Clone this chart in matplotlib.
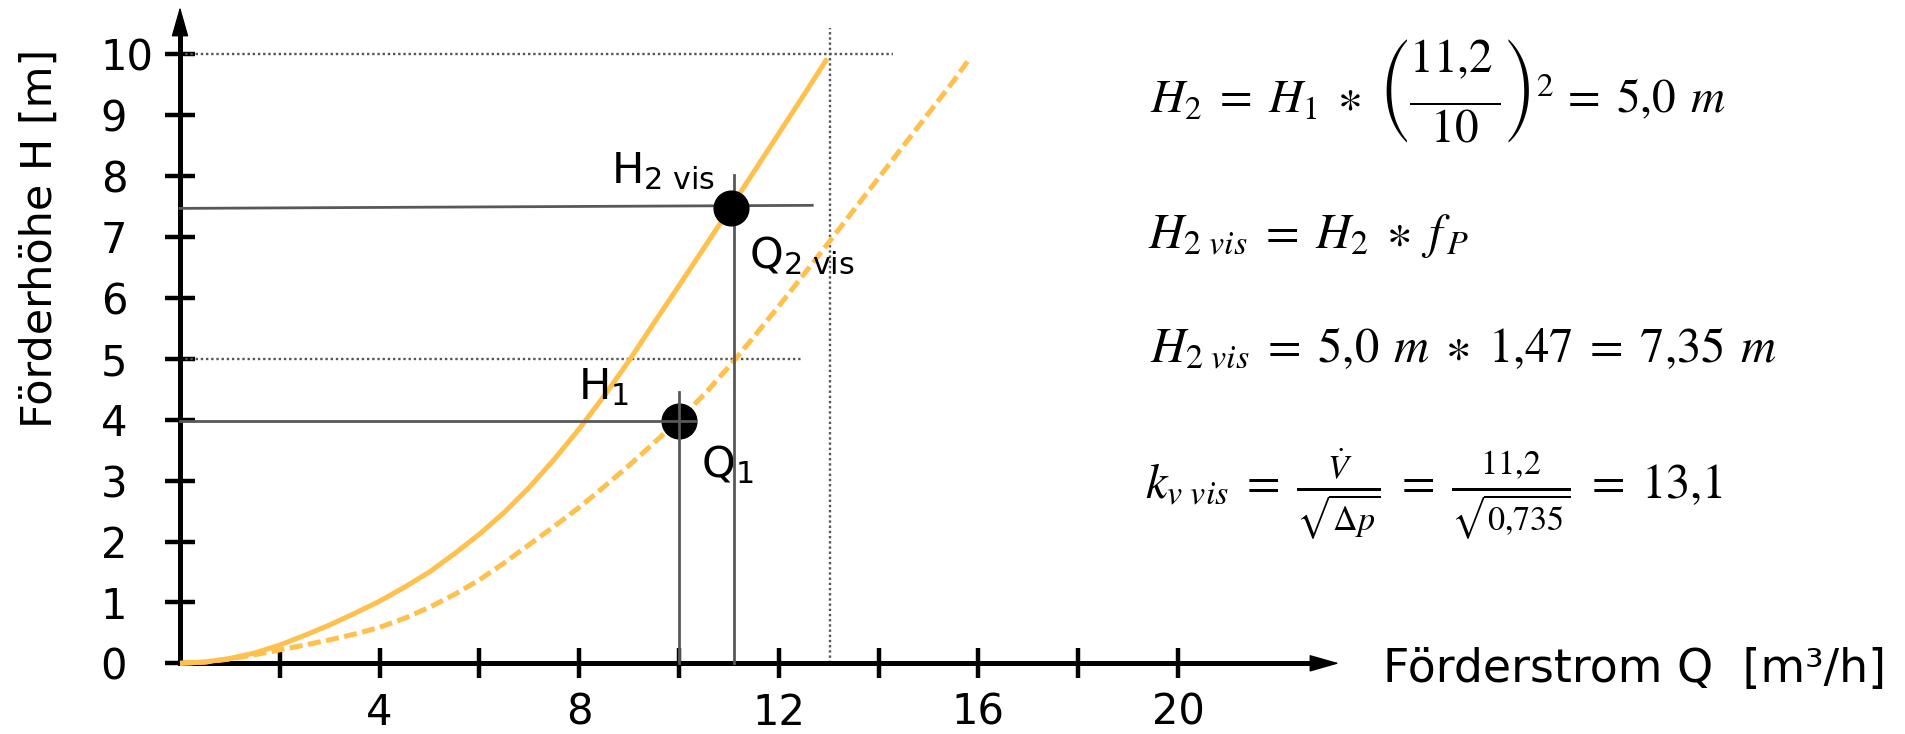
import matplotlib
matplotlib.use("Agg")
import matplotlib.pyplot as plt
from matplotlib.font_manager import FontProperties
from matplotlib.mathtext import MathTextParser

# ---- data -------------------------------------------------------------
# pump curve Q2vis/H2vis (solid) and curve through Q1/H1 (dashed)
solid_q = [0, 0.5, 1, 1.5, 2, 2.5, 3, 3.5, 4, 4.5, 5, 5.5, 6, 6.5, 7, 7.5, 8,
           8.5, 9, 9.5, 10, 10.5, 11, 11.5, 12, 12.5, 12.97]
solid_h = [0, 0.02, 0.08, 0.17, 0.30, 0.46, 0.63, 0.82, 1.02, 1.25, 1.50, 1.80,
           2.12, 2.48, 2.89, 3.35, 3.85, 4.39, 4.97, 5.59, 6.20, 6.82, 7.44,
           8.07, 8.70, 9.33, 9.93]

dashed_q = [0, 0.5, 1, 1.5, 2, 2.5, 3, 3.5, 4, 4.5, 5, 5.5, 6, 6.5, 7, 7.5, 8,
            8.5, 9, 9.5, 10, 10.5, 11, 11.5, 12, 12.5, 13, 13.5, 14, 14.5, 15,
            15.5, 15.84]
dashed_h = [0, 0.02, 0.07, 0.14, 0.22, 0.30, 0.385, 0.48, 0.59, 0.74, 0.92, 1.13,
            1.37, 1.65, 1.95, 2.25, 2.56, 2.90, 3.25, 3.62, 4.00, 4.41, 4.87,
            5.36, 5.865, 6.385, 6.91, 7.44, 7.97, 8.50, 9.03, 9.56, 9.95]

# operating points Q1/H1 and Q2vis/H2vis
point_q = [10.0, 11.05]
point_h = [3.98, 7.47]

# guide lines to the axes
h2_line_q, h2_line_h = [0, 12.67], [7.47, 7.52]
q2_line_q, q2_line_h = [11.1, 11.1], [0, 8.01]
h1_line_q, h1_line_h = [0, 10.33], [3.98, 3.98]
q1_line_q, q1_line_h = [10.0, 10.0], [0, 4.46]

# dotted helper lines
dot10_q, dot10_h = [0, 14.28], [10, 10]
dot5_q, dot5_h = [0, 12.48], [5, 5]
dot13_q, dot13_h = [13.03, 13.03], [0, 10.43]

x_ticks = [2, 4, 6, 8, 10, 12, 14, 16, 18, 20]
x_tick_labels = ["", "4", "", "8", "", "12", "", "16", "", "20"]
y_ticks = [0, 1, 2, 3, 4, 5, 6, 7, 8, 9, 10]
y_tick_labels = ["0", "1", "2", "3", "4", "5", "6", "7", "8", "9", "10"]

formula_1_options = [
    r"$H_2\;=\;H_1\;\ast\;\left(\dfrac{\genfrac{}{}{0}{0}{11{,}2}{\,}}{10}\right)^2\,=\;5{,}0\;\,m$",
    r"$H_2\;=\;H_1\;\ast\;\left(\dfrac{11{,}2}{10}\right)^2\,=\;5{,}0\;\,m$",
]
formula_2 = r"$H_{2\ vis}\;=\;H_2\;\ast\;f_{\,P}$"
formula_3 = r"$H_{2\ vis}\;=\;5{,}0\;\,m\;\ast\;1{,}47\;=\;7{,}35\;\,m$"
formula_4 = r"$k_{v\ vis}\;=\;\frac{\dot{V}}{\sqrt{\Delta p}}\;=\;\frac{11{,}2}{\sqrt{0{,}735}}\;=\;13{,}1$"


def first_parsable(options):
    parser = MathTextParser("agg")
    for s in options:
        try:
            parser.parse(s, dpi=100, prop=FontProperties(math_fontfamily="stix"))
            return s
        except Exception:
            continue
    return options[-1]


formula_1 = first_parsable(formula_1_options)

# ---- figure -------------------------------------------------------------
W, H = 1905, 734
fig = plt.figure(figsize=(W / 100, H / 100), dpi=100)
fig.patch.set_facecolor("white")

x0, y0 = 180, 663.3          # origin in pixels
ux, uy = 49.9, 60.9          # pixels per unit
xmax, ymax = 23.23, 10.78
ax = fig.add_axes([x0 / W, (H - y0) / H, xmax * ux / W, ymax * uy / H])
ax.set_xlim(0, xmax)
ax.set_ylim(0, ymax)
ax.patch.set_alpha(0)

orange = "#FFC04D"
gray = "#585858"
dotgray = "#555555"

for side in ("top", "right"):
    ax.spines[side].set_visible(False)
for side in ("left", "bottom"):
    ax.spines[side].set_linewidth(3.6)
    ax.spines[side].set_capstyle("projecting")
ax.spines["left"].set_bounds(0, ymax - 0.3)
ax.spines["bottom"].set_bounds(0, xmax - 0.4)

arrow_style = "-|>,head_length=0.95,head_width=0.27"
ax.annotate("", xy=(0, ymax), xytext=(0, ymax - 0.5), xycoords="data",
            arrowprops=dict(arrowstyle=arrow_style, mutation_scale=20, color="k",
                            lw=1, shrinkA=0, shrinkB=0), annotation_clip=False)
ax.annotate("", xy=(xmax, 0), xytext=(xmax - 0.6, 0), xycoords="data",
            arrowprops=dict(arrowstyle=arrow_style, mutation_scale=20, color="k",
                            lw=1, shrinkA=0, shrinkB=0), annotation_clip=False)

ax.set_xticks(x_ticks)
ax.set_xticklabels(x_tick_labels)
ax.set_yticks(y_ticks)
ax.set_yticklabels(y_tick_labels)
ax.tick_params(direction="inout", length=22.3, width=3.2, labelsize=30, color="k")
ax.tick_params(axis="x", pad=9.2)
ax.tick_params(axis="y", pad=46)
for lab in ax.get_yticklabels():
    lab.set_horizontalalignment("left")

# dotted helpers
dot_style = dict(color=dotgray, lw=1.7, linestyle=(0, (1, 1.2)), clip_on=False)
ax.plot(dot10_q, dot10_h, **dot_style)
ax.plot(dot5_q, dot5_h, **dot_style)
ax.plot(dot13_q, dot13_h, **dot_style)

# curves
ax.plot(solid_q, solid_h, color=orange, lw=3.6, solid_capstyle="butt",
        solid_joinstyle="round", clip_on=False, zorder=3)
ax.plot(dashed_q, dashed_h, color=orange, lw=3.6, linestyle=(0, (2.6, 1.1)),
        dash_capstyle="butt", dash_joinstyle="round", clip_on=False, zorder=3)

# guide lines and points
ax.plot(h2_line_q, h2_line_h, color=gray, lw=2, clip_on=False, zorder=4)
ax.plot(q2_line_q, q2_line_h, color=gray, lw=2, clip_on=False, zorder=4)
ax.plot(point_q, point_h, "o", color="k", ms=25, zorder=5, clip_on=False)
ax.plot(h1_line_q, h1_line_h, color=gray, lw=2, clip_on=False, zorder=6)
ax.plot(q1_line_q, q1_line_h, color=gray, lw=2, clip_on=False, zorder=6)

lab_kw = dict(fontsize=31, va="baseline", ha="left", color="k")
ax.text(8.64, 7.88, r"$\mathrm{H}_{\mathrm{2\ vis}}$", **lab_kw)
ax.text(11.41, 6.49, r"$\mathrm{Q}_{\mathrm{2\ vis}}$", **lab_kw)
ax.text(7.98, 4.34, r"$\mathrm{H}_{\mathrm{1}}$", **lab_kw)
ax.text(10.45, 3.06, r"$\mathrm{Q}_{\mathrm{1}}$", **lab_kw)

# axis titles
fig.text(40 / W, 1 - 238 / H, "Förderhöhe H [m]", rotation=90, fontsize=31,
         ha="center", va="center")
fig.text(1383 / W, 1 - 681.7 / H, "Förderstrom Q  [m³/h]", fontsize=33,
         ha="left", va="baseline")

# formulas
formulas = [formula_1, formula_2, formula_3, formula_4]
formula_pos = [(1150, 113), (1148, 248), (1150, 362), (1145, 498)]
formula_size = [34, 35, 35, 35]
for (fx, fy), f, fs in zip(formula_pos, formulas, formula_size):
    fig.text(fx / W, 1 - fy / H, f, fontsize=fs, math_fontfamily="stix",
             ha="left", va="baseline")

fig.savefig("out.png", dpi=100, facecolor="white")
